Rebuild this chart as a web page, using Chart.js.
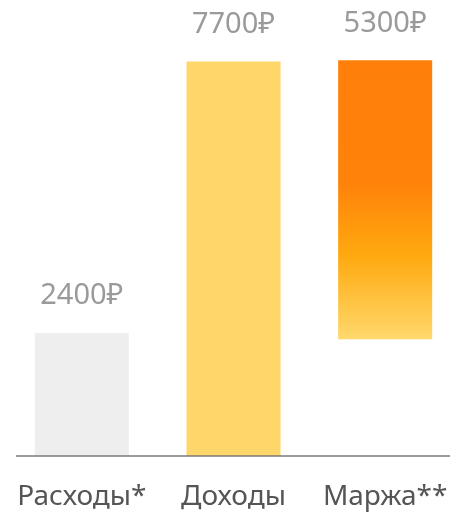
<!DOCTYPE html>
<html>
<head>
<meta charset="utf-8">
<script src="https://cdn.jsdelivr.net/npm/chart.js@4/dist/chart.umd.min.js"></script>
<style>
  html, body { margin: 0; padding: 0; background: #fff; }
  canvas { display: block; }
</style>
</head>
<body>
<canvas id="chart" width="461" height="515"></canvas>
<script>
// data
const categories = ["Расходы*", "Доходы", "Маржа**"];
const barStarts = [0, 0, 2280];
const barEnds = [2400, 7700, 7720];
const valueLabels = [2400, 7700, 5300];

const fontFamily = "'Noto Sans', 'Open Sans', 'DejaVu Sans', sans-serif";
const flatColors = ["#EEEEEE", "#FED66A"];

function barColor(ctx) {
    if (ctx.dataIndex < 2) return flatColors[ctx.dataIndex];
    const chart = ctx.chart;
    if (!chart.chartArea) return "#FF7F0A";
    const y = chart.scales.y;
    const top = y.getPixelForValue(barEnds[2]);
    const bottom = y.getPixelForValue(barStarts[2]);
    const g = chart.ctx.createLinearGradient(0, top, 0, bottom);
    g.addColorStop(0, "#FF7F0A");
    g.addColorStop(0.44, "#FF820A");
    g.addColorStop(0.7, "#FFA90F");
    g.addColorStop(1, "#FFD86C");
    return g;
}

// value labels above bars + base line
const extras = {
    id: "extras",
    afterDatasetsDraw(chart) {
        const c = chart.ctx;
        const meta = chart.getDatasetMeta(0);
        c.save();
        c.font = "29px " + fontFamily;
        c.fillStyle = "#9a9a9a";
        c.textAlign = "center";
        c.textBaseline = "middle";
        meta.data.forEach((bar, i) => {
            c.fillText(valueLabels[i] + "₽", bar.x, bar.y - 37);
        });
        const base = chart.scales.y.getPixelForValue(0);
        c.strokeStyle = "#7a7a7a";
        c.lineWidth = 1.5;
        c.beginPath();
        c.moveTo(16, base);
        c.lineTo(450, base);
        c.stroke();
        c.restore();
    }
};

new Chart(document.getElementById("chart"), {
    type: "bar",
    data: {
        labels: categories,
        datasets: [{
            data: categories.map((_, i) => [barStarts[i], barEnds[i]]),
            backgroundColor: barColor,
            borderWidth: 0,
            barPercentage: 1,
            categoryPercentage: 0.62
        }]
    },
    options: {
        responsive: false,
        animation: false,
        layout: { padding: { left: 6, right: 0, top: 46, bottom: 2 } },
        plugins: {
            legend: { display: false },
            tooltip: { enabled: false }
        },
        scales: {
            x: {
                grid: { display: false, drawTicks: false },
                border: { display: false },
                afterFit: (scale) => {
                    scale.height = 57;
                    scale.paddingLeft = 0;
                    scale.paddingRight = 0;
                },
                ticks: {
                    padding: 24,
                    maxRotation: 0,
                    autoSkip: false,
                    color: "#555555",
                    font: { family: fontFamily, size: 28 }
                }
            },
            y: {
                display: false,
                min: 0,
                max: 8000
            }
        }
    },
    plugins: [extras]
});
</script>
</body>
</html>
